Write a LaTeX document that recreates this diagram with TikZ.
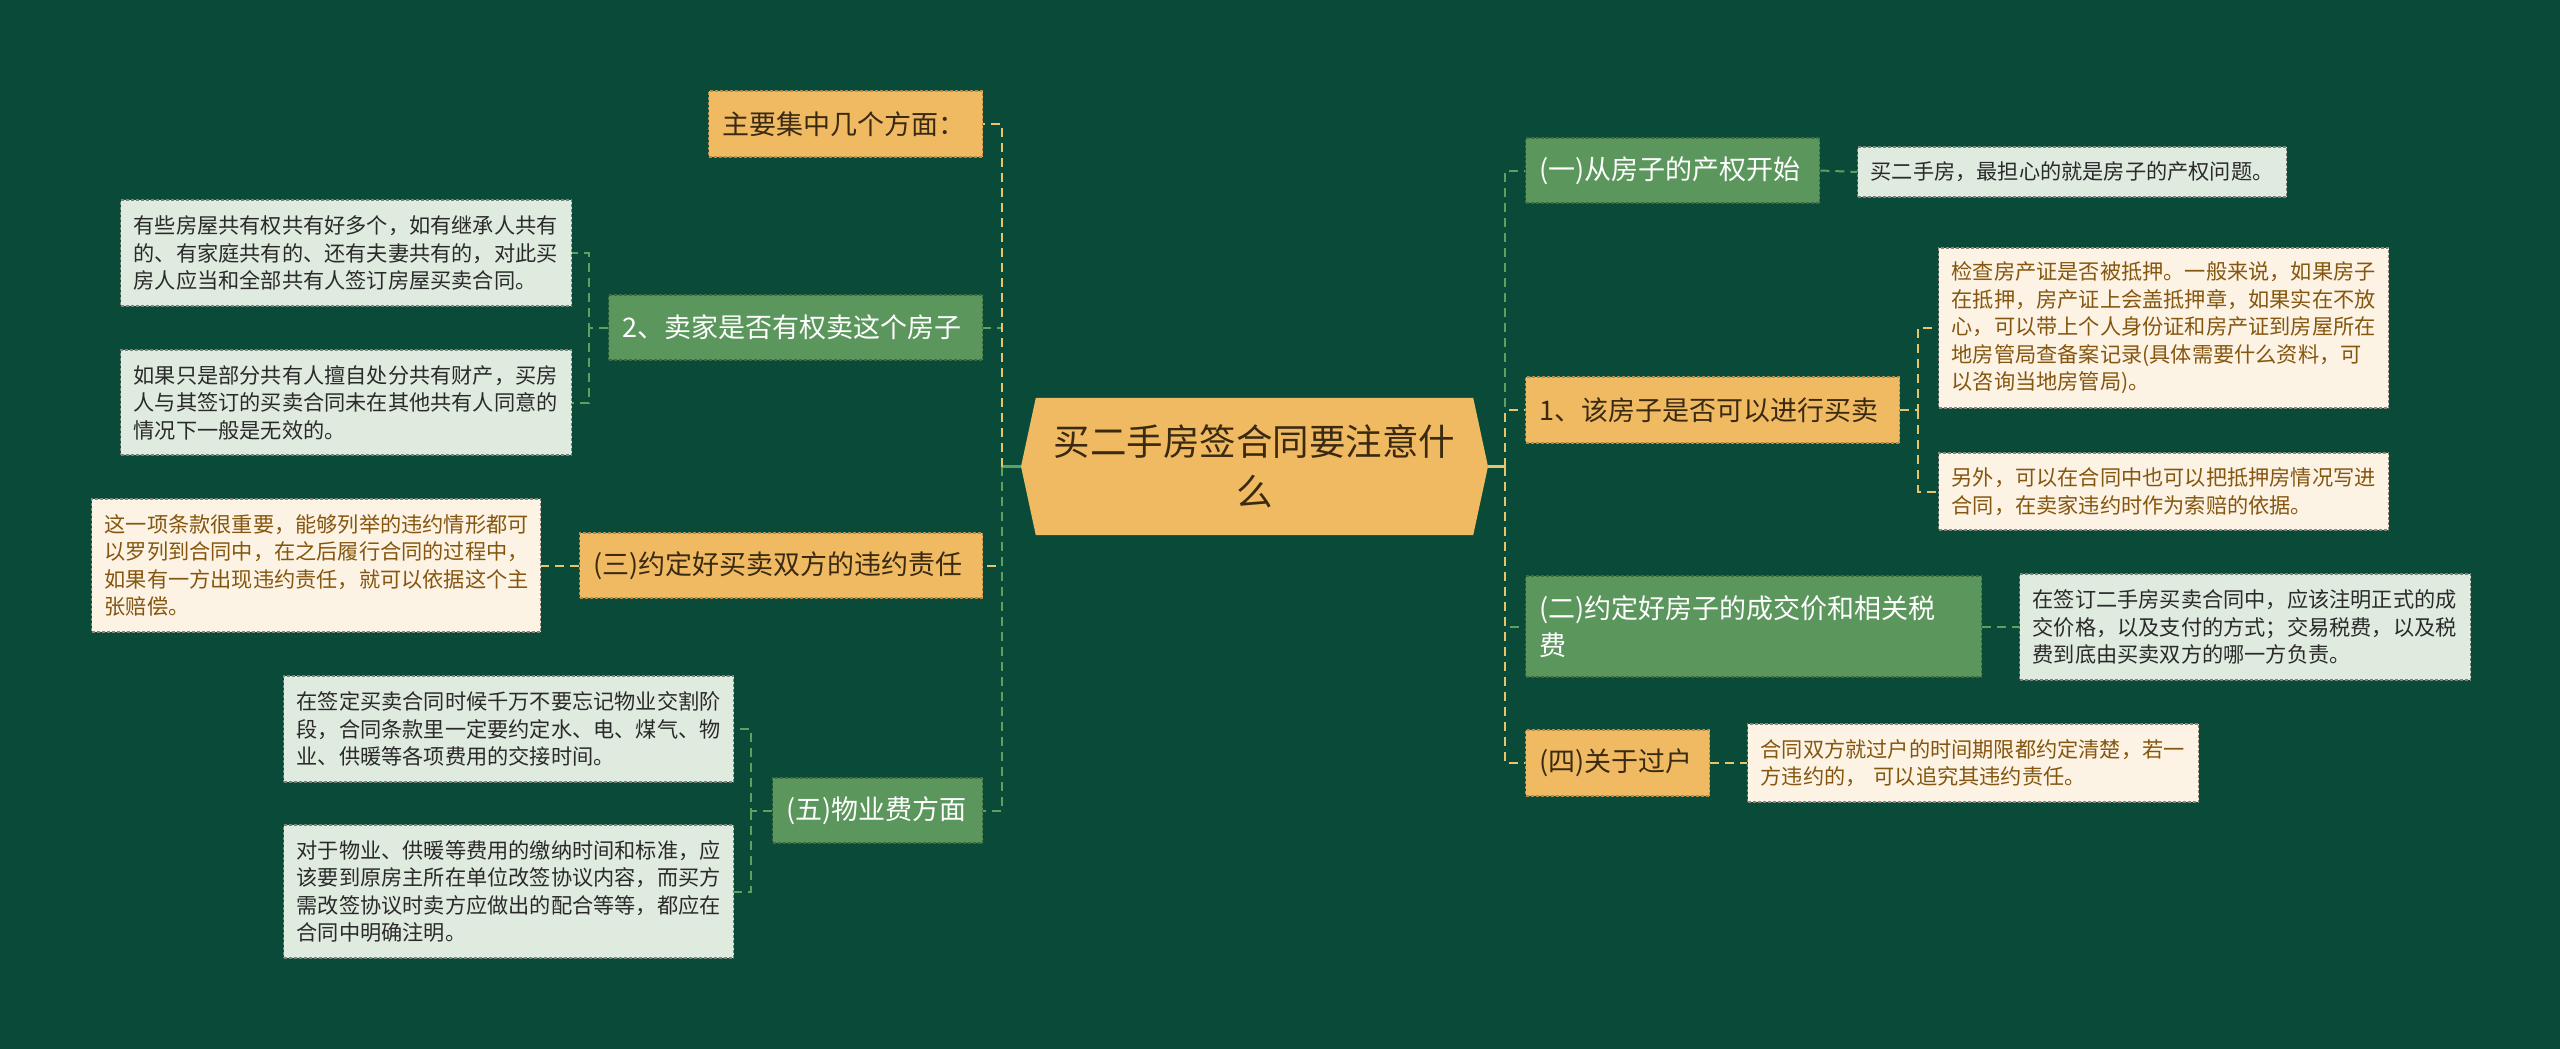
\documentclass[tikz,border=0pt]{standalone}
\usepackage{fontspec}
\setmainfont{Noto Sans CJK SC}
\usetikzlibrary{backgrounds}
\definecolor{bgcol}{HTML}{0A4A39}
\definecolor{orcol}{HTML}{F0BA62}
\definecolor{grcol}{HTML}{5B975C}
\definecolor{ltcol}{HTML}{E0EBE0}
\definecolor{crcol}{HTML}{FDF3E4}
\definecolor{crtext}{HTML}{85560F}
\definecolor{ortext}{HTML}{3A2A12}
\definecolor{lttext}{HTML}{2A2A2A}
\definecolor{ylline}{HTML}{E9C46A}
\definecolor{grline}{HTML}{5E9F62}
\tikzset{
  base/.style={anchor=west, align=left, inner ysep=0pt, inner xsep=14pt, line width=1.3pt, dash pattern=on 3pt off 2pt},
  mainor/.style={base, fill=orcol, draw=orcol!75!black, text=ortext, font=\fontsize{27}{36.7}\selectfont, minimum height=66pt},
  maingr/.style={base, fill=grcol, draw=grcol!70!black, text=white, font=\fontsize{27}{36.7}\selectfont, minimum height=66pt},
  leaflt/.style={base, inner xsep=13pt, fill=ltcol, draw=ltcol!55!black, text=lttext, font=\fontsize{21.2}{27.5}\selectfont},
  leafcr/.style={base, inner xsep=13pt, fill=crcol, draw=crcol!55!black, text=crtext, font=\fontsize{21.2}{27.5}\selectfont},
  yl/.style={draw=ylline, line width=2pt, dash pattern=on 9pt off 6pt},
  gl/.style={draw=grline, line width=2pt, dash pattern=on 9pt off 6pt},
}
\begin{document}
\begin{tikzpicture}[x=1pt,y=-1pt]
\useasboundingbox (0,0) rectangle (2560,1049);
% center
\node[text=ortext, font=\fontsize{36.5}{50}\selectfont, align=center, minimum width=437pt, minimum height=137pt, inner sep=0pt] (c) at (1254.5,466.5) {买二手房签合同要注意什\\么};
\coordinate (cl) at (1021,466.5);
\coordinate (cr) at (1488,466.5);
\coordinate (lt) at (1002,466.5);
\coordinate (rt) at (1505,466.5);
\begin{scope}[on background layer]
\fill[bgcol] (0,0) rectangle (2560,1049);
\fill[orcol] (c.north west) -- (c.north east) -- (cr) -- (c.south east) -- (c.south west) -- (cl) -- cycle;
\end{scope}

% right level-1
\node[maingr, text width=266pt, minimum height=65pt] (r1) at (1525,170.5) {(一)从房子的产权开始};
\node[mainor, text width=346pt] (r2) at (1525,410) {1、该房子是否可以进行买卖};
\node[maingr, text width=428pt, minimum height=101pt] (r3) at (1525,626.5) {(二)约定好房子的成交价和相关税\\费};
\node[mainor, text width=156pt] (r4) at (1525,763) {(四)关于过户};

% right leaves
\node[leaflt, text width=403pt, minimum height=50pt] (r1a) at (1857,172) {买二手房，最担心的就是房子的产权问题。};
\node[leafcr, text width=424pt, minimum height=160pt] (r2a) at (1938,328) {检查房产证是否被抵押。一般来说，如果房子\\在抵押，房产证上会盖抵押章，如果实在不放\\心，可以带上个人身份证和房产证到房屋所在\\地房管局查备案记录(具体需要什么资料，可\\以咨询当地房管局)。};
\node[leafcr, text width=424pt, minimum height=77pt] (r2b) at (1938,491.5) {另外，可以在合同中也可以把抵押房情况写进\\合同，在卖家违约时作为索赔的依据。};
\node[leaflt, text width=425pt, minimum height=106pt] (r3a) at (2019,627) {在签订二手房买卖合同中，应该注明正式的成\\交价格，以及支付的方式；交易税费，以及税\\费到底由买卖双方的哪一方负责。};
\node[leafcr, text width=425pt, minimum height=78pt] (r4a) at (1747,763) {合同双方就过户的时间期限都约定清楚，若一\\方违约的，\ 可以追究其违约责任。};

% left level-1
\node[mainor, text width=246pt] (l1) at (708,124) {主要集中几个方面：};
\node[maingr, text width=346pt, minimum height=65pt] (l2) at (608,327.5) {2、卖家是否有权卖这个房子};
\node[mainor, text width=375pt, minimum height=65pt] (l3) at (579,565.5) {(三)约定好买卖双方的违约责任};
\node[maingr, text width=182pt, minimum height=65pt] (l4) at (772,810.5) {(五)物业费方面};

% left leaves
\node[leaflt, text width=425pt, minimum height=106pt] (l2a) at (120,253) {有些房屋共有权共有好多个，如有继承人共有\\的、有家庭共有的、还有夫妻共有的，对此买\\房人应当和全部共有人签订房屋买卖合同。};
\node[leaflt, text width=425pt, minimum height=105pt] (l2b) at (120,402.5) {如果只是部分共有人擅自处分共有财产，买房\\人与其签订的买卖合同未在其他共有人同意的\\情况下一般是无效的。};
\node[leafcr, text width=423pt, minimum height=133pt] (l3a) at (91,565.5) {这一项条款很重要，能够列举的违约情形都可\\以罗列到合同中，在之后履行合同的过程中，\\如果有一方出现违约责任，就可以依据这个主\\张赔偿。};
\node[leaflt, text width=424pt, minimum height=106pt] (l4a) at (283,729) {在签定买卖合同时候千万不要忘记物业交割阶\\段，合同条款里一定要约定水、电、煤气、物\\业、供暖等各项费用的交接时间。};
\node[leaflt, text width=424pt, minimum height=133pt] (l4b) at (283,891.5) {对于物业、供暖等费用的缴纳时间和标准，应\\该要到原房主所在单位改签协议内容，而买方\\需改签协议时卖方应做出的配合等等，都应在\\合同中明确注明。};

% center stubs
\draw[ylline, line width=2.5pt] (cr) -- (rt);
\draw[grline, line width=2.5pt] (cl) -- (lt);

% right trunk connectors
\draw[gl] (rt) |- (r1.west);
\draw[gl] (rt) |- (r3.west);
\draw[yl] (rt) |- (r2.west);
\draw[yl] (rt) |- (r4.west);

% left trunk connectors
\draw[gl] (lt) |- (l2.east);
\draw[yl] (lt) |- (l1.east);
\draw[yl] (lt) |- (l3.east);
\draw[gl] (lt) |- (l4.east);

% leaf connectors right
\draw[gl] (r1.east) -- (r1a.west);
\coordinate (r2j) at (1918,410);
\draw[yl] (r2.east) -- (r2j) |- (r2a.west);
\draw[yl] (r2j) |- (r2b.west);
\draw[gl] (r3.east) -- (r3a.west |- r3.east);
\draw[yl] (r4.east) -- (r4a.west);

% leaf connectors left
\coordinate (l2j) at (589,327.5);
\draw[gl] (l2.west) -- (l2j) |- (l2a.east);
\draw[gl] (l2j) |- (l2b.east);
\draw[yl] (l3.west) -- (l3a.east);
\coordinate (l4j) at (751,810.5);
\draw[gl] (l4.west) -- (l4j) |- (l4a.east);
\draw[gl] (l4j) |- (l4b.east);
\end{tikzpicture}
\end{document}
